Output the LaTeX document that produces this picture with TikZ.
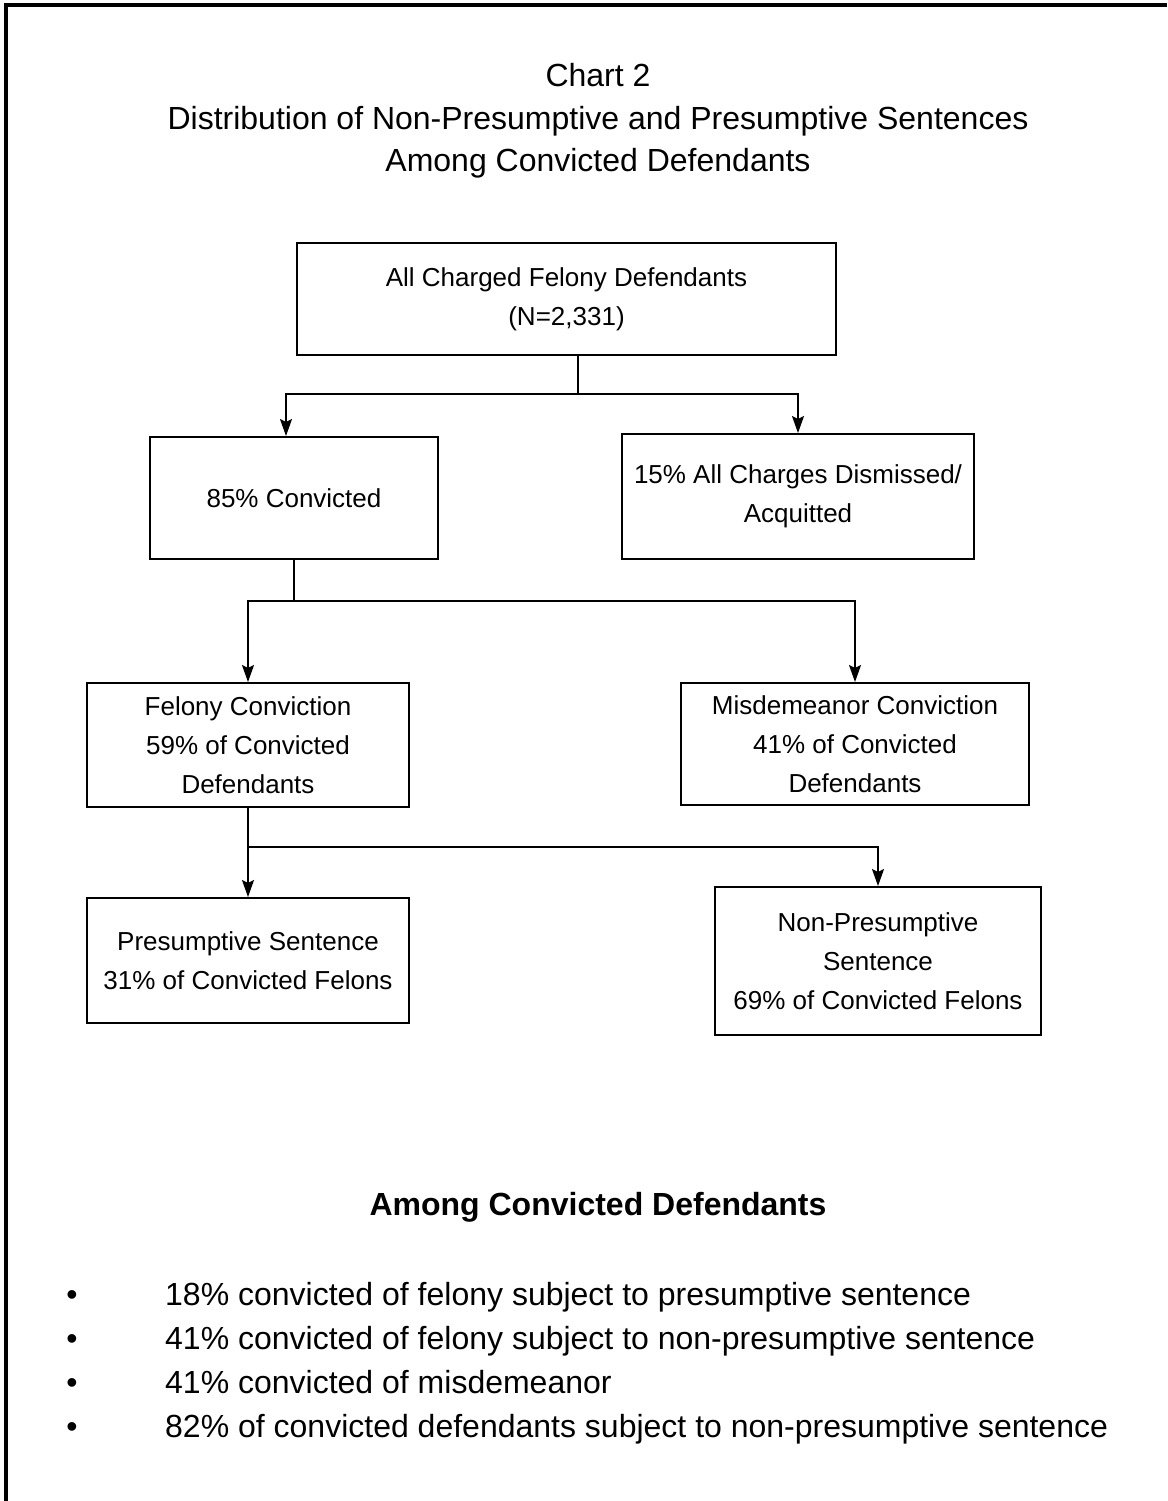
\documentclass[tikz,border=0pt]{standalone}
\usepackage{fontspec}
\setmainfont{Liberation Sans}
\usepackage{tikz}
\usetikzlibrary{arrows.meta}
\newcommand\boxfont{\fontsize{26}{39}\selectfont}
\newcommand\titlefont{\fontsize{32}{42.5}\selectfont}
\tikzstyle{box}=[draw,line width=2pt,align=center,inner sep=0pt,font=\boxfont]
\tikzstyle{stem}=[line width=2pt]
\tikzstyle{flow}=[stem,-{Stealth[length=17pt,width=12pt,inset=3pt]}]
\tikzstyle{item}=[anchor=base west,inner sep=0pt,font=\titlefont]
\tikzstyle{dot}=[anchor=base,inner sep=0pt,font=\titlefont]

\begin{document}
\begin{tikzpicture}[x=1pt,y=-1pt]
	\useasboundingbox (0,0) rectangle (1167,1501);
	\draw[line width=4pt] (6,1501) -- (6,5) -- (1167,5);
	\node (title) [align=center,inner sep=0pt,font=\titlefont] at (598,121)
		{Chart 2\\Distribution of Non-Presumptive and Presumptive Sentences\\Among Convicted Defendants};
	% boxes
	\node (all)  [box,minimum width=539pt,minimum height=112pt] at (566.5,299) {All Charged Felony Defendants\\(N=2,331)};
	\node (conv) [box,minimum width=288pt,minimum height=122pt] at (294,498)   {85\% Convicted};
	\node (dism) [box,minimum width=352pt,minimum height=125pt] at (798,496.5) {15\% All Charges Dismissed/\\Acquitted};
	\node (fel)  [box,minimum width=322pt,minimum height=124pt] at (248,745)   {Felony Conviction\\59\% of Convicted\\Defendants};
	\node (misd) [box,minimum width=348pt,minimum height=122pt] at (855,744)   {Misdemeanor Conviction\\41\% of Convicted\\Defendants};
	\node (pres) [box,minimum width=322pt,minimum height=125pt] at (248,960.5) {Presumptive Sentence\\31\% of Convicted Felons};
	\node (nonp) [box,minimum width=326pt,minimum height=148pt] at (878,961)   {Non-Presumptive\\Sentence\\69\% of Convicted Felons};
	% connectors
	\coordinate (j1) at (578,394);
	\coordinate (j2) at (294,601);
	\coordinate (j3) at (248,847);
	\draw[stem] (all.south -| j1) -- (j1);
	\draw[flow] (j1) -| ([xshift=-8pt]conv.north);
	\draw[flow] (j1) -| (dism.north);
	\draw[stem] (conv.south) -- (j2);
	\draw[flow] (j2) -| (fel.north);
	\draw[flow] (j2) -| (misd.north);
	\draw[flow] (fel.south) -- (pres.north);
	\draw[flow] (j3) -| (nonp.north);
	% summary
	\node (sum) [anchor=base,inner sep=0pt,font=\titlefont\bfseries] at (598,1215) {Among Convicted Defendants};
	\node (d1) [dot] at (72,1305) {\textbullet};
	\node (d2) [dot] at (72,1349) {\textbullet};
	\node (d3) [dot] at (72,1393) {\textbullet};
	\node (d4) [dot] at (72,1437) {\textbullet};
	\node (s1) [item] at (165,1305) {18\% convicted of felony subject to presumptive sentence};
	\node (s2) [item] at (165,1349) {41\% convicted of felony subject to non-presumptive sentence};
	\node (s3) [item] at (165,1393) {41\% convicted of misdemeanor};
	\node (s4) [item] at (165,1437) {82\% of convicted defendants subject to non-presumptive sentence};
\end{tikzpicture}
\end{document}
